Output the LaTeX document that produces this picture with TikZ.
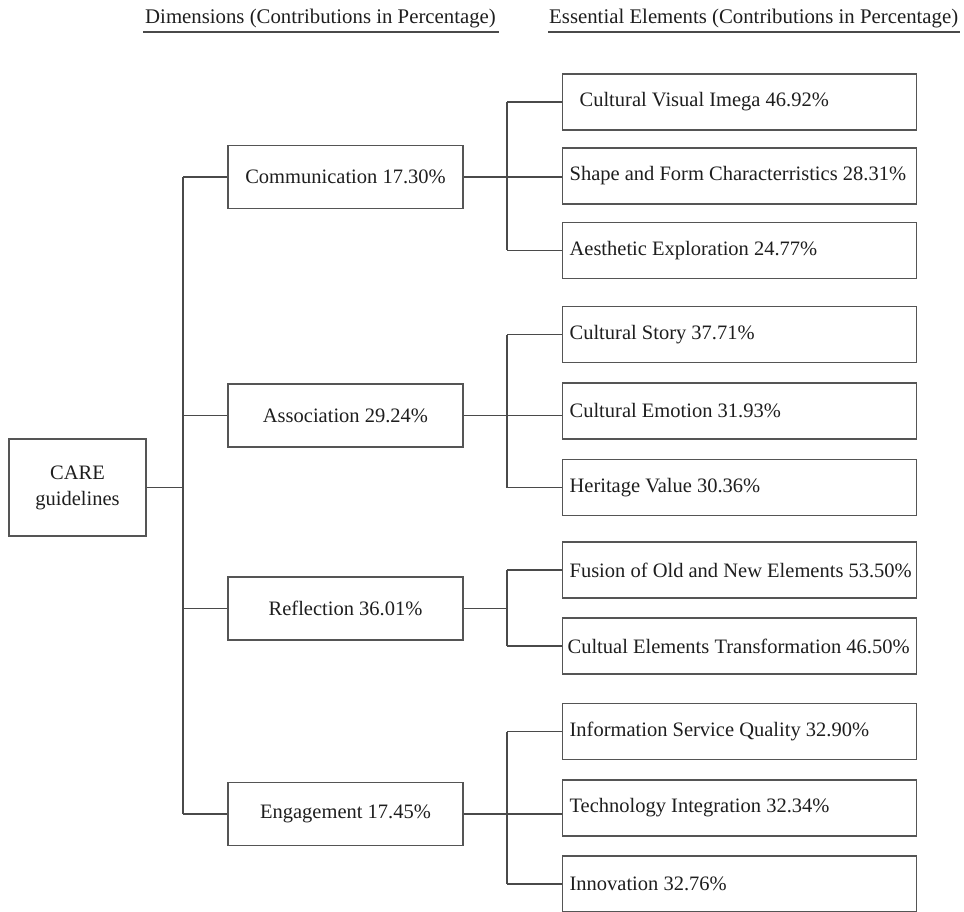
\documentclass[tikz,border=0pt]{standalone}
\usepackage{fontspec}
\setmainfont{Liberation Serif}
\definecolor{bx}{HTML}{555555}
\definecolor{ln}{HTML}{4A4A4A}
\definecolor{tx}{HTML}{1E1E1E}
\newcommand{\fsz}{\fontsize{20.5}{26}\selectfont}
\newcommand{\hfsz}{\fontsize{20.8}{25}\selectfont}
\begin{document}
\begin{tikzpicture}[x=1pt,y=-1pt,
  box/.style={draw=bx, line width=1.2pt, rectangle, inner sep=0pt, font=\fsz, text=tx},
  dimbox/.style={box, minimum width=235pt, minimum height=63pt},
  elbox/.style={box, minimum width=354pt, minimum height=56pt, inner xsep=7pt, anchor=west},
  link/.style={draw=ln, line width=1.2pt},
  hdr/.style={font=\hfsz, inner sep=0pt, anchor=base west, text=tx}]
\useasboundingbox (0,0) rectangle (964,912);
% headers
\node[hdr] (h1) at (145,24) {Dimensions (Contributions in Percentage)};
\node[hdr] (h2) at (549,24) {Essential Elements (Contributions in Percentage)};
\draw[draw=ln, line width=1.7pt] ([shift={(-2,8)}]h1.base west) -- ([shift={(3,8)}]h1.base east);
\draw[draw=ln, line width=1.7pt] ([shift={(-1,8)}]h2.base west) -- ([shift={(2,8)}]h2.base east);
% root
\node[box, minimum width=137pt, minimum height=97pt, align=center] (care) at (77.5,487.5) {CARE\\guidelines};
% dimensions
\node[dimbox] (comm)  at (345.5,177) {Communication 17.30\%};
\node[dimbox] (assoc) at (345.5,415.5) {Association 29.24\%};
\node[dimbox] (refl)  at (345.5,608.5) {Reflection 36.01\%};
\node[dimbox] (eng)   at (345.5,814) {Engagement 17.45\%};
% elements
\node[elbox] (e1)  at (562,102)   {\makebox[340pt][l]{\hspace{10pt}Cultural Visual Imega 46.92\%}};
\node[elbox] (e2)  at (562,176)   {\makebox[340pt][l]{Shape and Form Characterristics 28.31\%}};
\node[elbox] (e3)  at (562,250.5) {\makebox[340pt][l]{Aesthetic Exploration 24.77\%}};
\node[elbox] (e4)  at (562,334.5) {\makebox[340pt][l]{Cultural Story 37.71\%}};
\node[elbox] (e5)  at (562,411)   {\makebox[340pt][l]{Cultural Emotion 31.93\%}};
\node[elbox] (e6)  at (562,487.5) {\makebox[340pt][l]{Heritage Value 30.36\%}};
\node[elbox] (e7)  at (562,570)   {\makebox[340pt][l]{Fusion of Old and New Elements 53.50\%}};
\node[elbox] (e8)  at (562,646)   {\makebox[340pt][l]{\hspace{-2pt}Cultual Elements Transformation 46.50\%}};
\node[elbox] (e9)  at (562,731.5) {\makebox[340pt][l]{Information Service Quality 32.90\%}};
\node[elbox] (e10) at (562,808)   {\makebox[340pt][l]{Technology Integration 32.34\%}};
\node[elbox] (e11) at (562,884)   {\makebox[340pt][l]{Innovation 32.76\%}};
% trunks
\coordinate (tk) at (183,0);
\coordinate (rk) at (507,0);
\draw[link] (care.east) -- (care.east -| tk);
\draw[link] (comm.west -| tk) -- (eng.west -| tk);
\foreach \n in {comm,assoc,refl,eng} \draw[link] (\n.west -| tk) -- (\n.west);
% communication group
\draw[link] (comm.east) -- (comm.east -| e2.west);
\draw[link] (e1.west -| rk) -- (e3.west -| rk);
\foreach \n in {e1,e3} \draw[link] (\n.west -| rk) -- (\n.west);
% association group
\draw[link] (assoc.east) -- (assoc.east -| e5.west);
\draw[link] (e4.west -| rk) -- (e6.west -| rk);
\foreach \n in {e4,e6} \draw[link] (\n.west -| rk) -- (\n.west);
% reflection group
\draw[link] (refl.east) -- (refl.east -| rk);
\draw[link] (e7.west -| rk) -- (e8.west -| rk);
\foreach \n in {e7,e8} \draw[link] (\n.west -| rk) -- (\n.west);
% engagement group
\draw[link] (eng.east) -- (eng.east -| e10.west);
\draw[link] (e9.west -| rk) -- (e11.west -| rk);
\foreach \n in {e9,e11} \draw[link] (\n.west -| rk) -- (\n.west);
\end{tikzpicture}
\end{document}
